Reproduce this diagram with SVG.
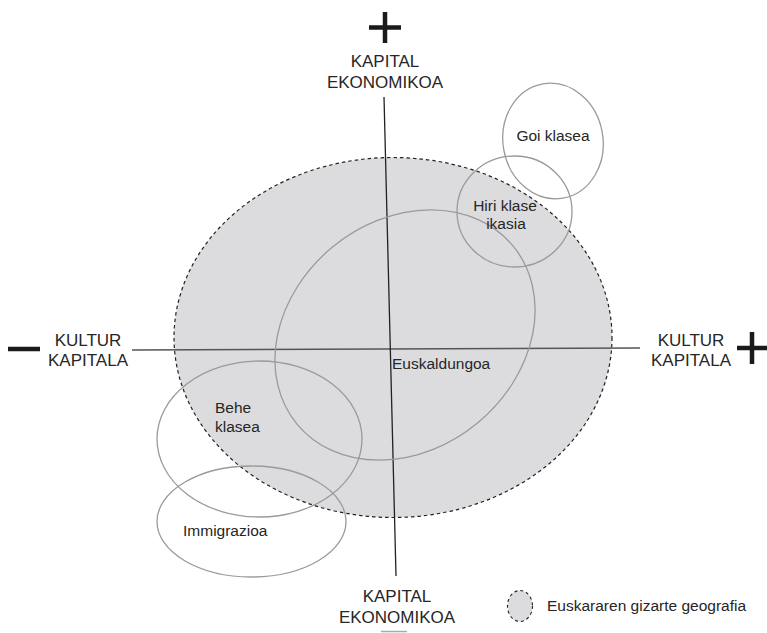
<svg xmlns="http://www.w3.org/2000/svg" width="767" height="633" viewBox="0 0 767 633">
<style>
.t{font-family:"Liberation Sans",Arial,sans-serif;fill:#262626;}
.ax{font-size:17px;text-anchor:middle;}
.lb{font-size:15.5px;}
.c{fill:none;stroke:#9a9a9a;stroke-width:1.3;}
.sign{stroke:#1a1a1a;stroke-width:4.5;fill:none;}
</style>
<rect width="767" height="633" fill="#ffffff"/>
<g id="geografia">
<ellipse cx="393" cy="337.5" rx="219" ry="180" fill="#dcdcdf" stroke="#222" stroke-width="1.2" stroke-dasharray="3.5,3"/>
</g>
<g id="connectors">
<line x1="132" y1="350" x2="640" y2="348" stroke="#555" stroke-width="1.3"/>
<line x1="384" y1="97" x2="396" y2="576" stroke="#222" stroke-width="1.3"/>
</g>
<g id="euskaldungoa">
<ellipse cx="0" cy="0" rx="140" ry="114" class="c" transform="translate(405 335) rotate(-39.5)"/>
<text class="t lb" x="392" y="369">Euskaldungoa</text>
</g>
<g id="goi-klasea">
<ellipse cx="0" cy="0" rx="50" ry="58" class="c" transform="translate(553 141) rotate(-10)"/>
<text class="t lb" x="553" y="141" text-anchor="middle">Goi klasea</text>
</g>
<g id="hiri-klase-ikasia">
<ellipse cx="514.5" cy="211.5" rx="57.5" ry="55.5" class="c"/>
<text class="t lb" x="505" y="211" text-anchor="middle">Hiri klase</text>
<text class="t lb" x="506" y="229" text-anchor="middle">ikasia</text>
</g>
<g id="behe-klasea">
<ellipse cx="259.5" cy="439" rx="102.5" ry="78" class="c"/>
<text class="t lb" x="215" y="413">Behe</text>
<text class="t lb" x="215" y="432">klasea</text>
</g>
<g id="immigrazioa">
<ellipse cx="251.5" cy="521.5" rx="94.5" ry="55.5" class="c"/>
<text class="t lb" x="183" y="536">Immigrazioa</text>
</g>
<g id="axis-top">
<path class="sign" d="M369 27.5H401M385 12V43"/>
<text class="t ax" x="385" y="67">KAPITAL</text>
<text class="t ax" x="385" y="88">EKONOMIKOA</text>
</g>
<g id="axis-bottom">
<text class="t ax" x="397" y="602">KAPITAL</text>
<text class="t ax" x="397" y="623">EKONOMIKOA</text>
<line x1="381" y1="631.5" x2="407" y2="631.5" stroke="#aaa" stroke-width="1.5"/>
</g>
<g id="axis-left">
<path class="sign" d="M8 349H40"/>
<text class="t ax" x="88" y="346">KULTUR</text>
<text class="t ax" x="88" y="366">KAPITALA</text>
</g>
<g id="axis-right">
<path class="sign" d="M737 348H767M752 332V364"/>
<text class="t ax" x="691" y="346">KULTUR</text>
<text class="t ax" x="691" y="366">KAPITALA</text>
</g>
<g id="legend">
<ellipse cx="520" cy="606" rx="12.5" ry="15.5" fill="#dcdcdf" stroke="#222" stroke-width="1.1" stroke-dasharray="3,3"/>
<text class="t lb" x="547" y="611">Euskararen gizarte geografia</text>
</g>
</svg>
